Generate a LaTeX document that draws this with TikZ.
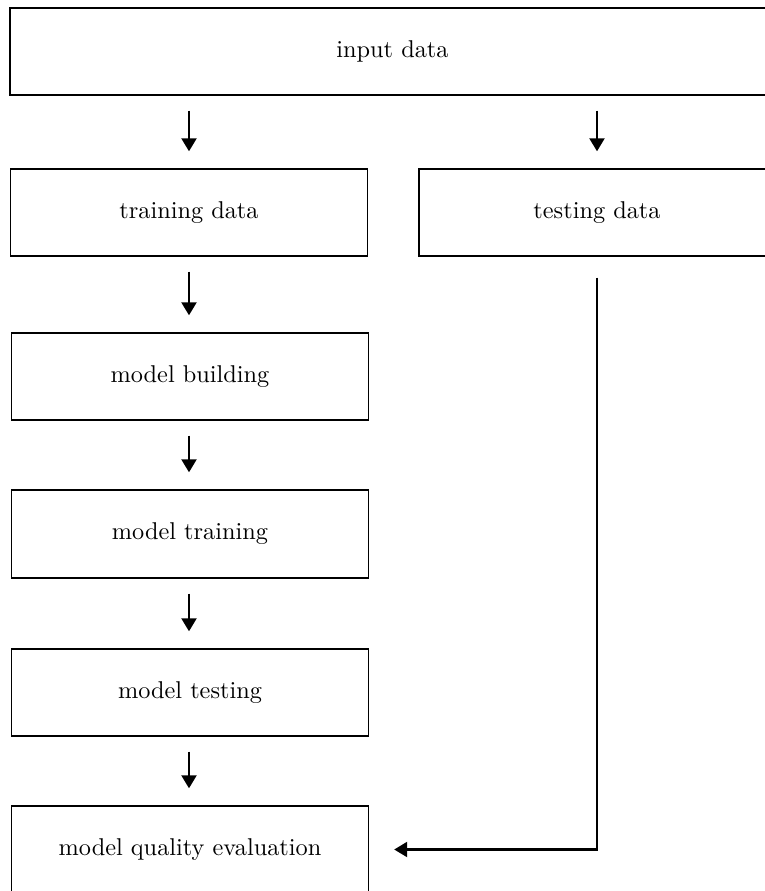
\documentclass[tikz,border=0pt]{standalone}
\usetikzlibrary{arrows.meta}
\begin{document}
\begin{tikzpicture}[x=1pt,y=-1pt,
  box/.style={draw=black,line width=1.4pt,rectangle,inner sep=0pt,minimum height=87pt},
  colbox/.style={box,minimum width=357pt},
  arr/.style={line width=2.2pt,-{Triangle[length=13pt,width=15pt]},shorten <=15pt,shorten >=17pt},
  lbl/.style={}]
\useasboundingbox (0,0) rectangle (764,891);
\node[box,minimum width=765pt] (input) at (392.5,51.5) {\scalebox{2.43}{input data}};
\node[colbox] (train) at (189,212.5) {\scalebox{2.43}{training data}};
\node[box,minimum width=356pt] (test) at (597,212.5) {\scalebox{2.43}{testing data}};
\node[colbox] (build) at (190,376.5) {\scalebox{2.43}{model building}};
\node[colbox,minimum height=88pt] (mtrain) at (190,534) {\scalebox{2.43}{model training}};
\node[colbox] (mtest) at (190,692.5) {\scalebox{2.43}{model testing}};
\node[colbox] (qual) at (190,849.5) {\scalebox{2.43}{model quality evaluation}};
\draw[arr] (input.south -| train.north) -- (train.north);
\draw[arr] (input.south -| test.north) -- (test.north);
\draw[arr] (train.south) -- (train.south |- build.north);
\draw[arr] (build.south -| train.south) -- (train.south |- mtrain.north);
\draw[arr] (mtrain.south -| train.south) -- (train.south |- mtest.north);
\draw[arr] (mtest.south -| train.south) -- (train.south |- qual.north);
\draw[line width=2.2pt,-{Triangle[length=13pt,width=15pt]},shorten <=21pt,shorten >=25pt]
  (test.south) -- (test.south |- qual.east) -- (qual.east);
\end{tikzpicture}
\end{document}
